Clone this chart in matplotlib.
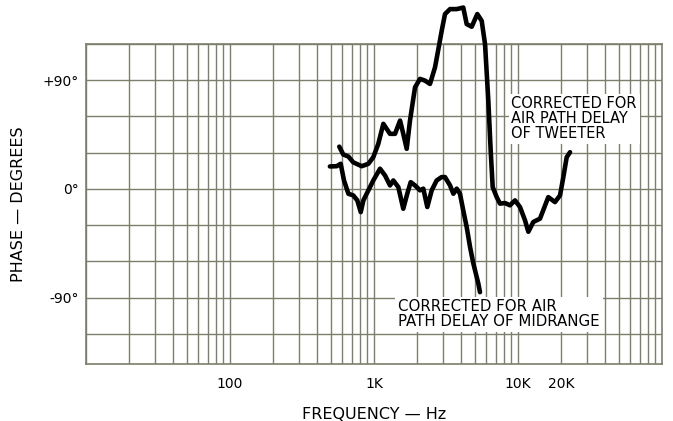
import matplotlib
matplotlib.use("Agg")
import matplotlib.pyplot as plt
import numpy as np

# phase curve corrected for tweeter air path delay (Hz, degrees)
tweeter_freq = [574, 612, 664, 718, 822, 914, 989, 1071, 1161, 1225, 1292, 1400, 1517, 1597,
                1687, 1778, 1927, 2086, 2259, 2448, 2652, 2842, 2953, 3112, 3373, 3754, 4168,
                4402, 4770, 5216, 5596, 5902, 6222, 6460, 6672, 7112, 7499, 8126, 8796, 9527,
                10323, 11185, 11800, 12770, 14220, 16230, 18060, 19580, 20650, 21790, 22980]
tweeter_phase = [35, 28.5, 26.8, 22, 18.8, 20.8, 26.3, 37.3, 53.9, 49.7, 45.6, 45.6, 56.6, 45.6,
                 33.2, 56.6, 84.1, 91.1, 89.7, 86.9, 100.6, 120, 131, 144.8, 148.9, 148.9, 150.2,
                 136.5, 134.3, 144.8, 139.2, 120, 73.1, 31.8, 1.5, -6.8, -12.2, -11.7, -13.6, -9.5,
                 -15, -26, -35.5, -27.4, -24.6, -6.8, -10.9, -5.4, 9.8, 26.3, 30.4]

# phase curve corrected for midrange air path delay
mid_freq = [494, 551, 587, 619, 664, 718, 766, 809, 844, 914, 989, 1101, 1192, 1292, 1362,
            1475, 1597, 1702, 1798, 1927, 2086, 2200, 2345, 2516, 2723, 2951, 3112, 3373,
            3557, 3754, 3953, 4168, 4402, 4645, 4898, 5300, 5445]
mid_phase = [18.6, 18.8, 20.8, 7, -4, -5.4, -9.5, -19.2, -9.5, -1.2, 7, 16.7, 11.2, 2.9, 7,
             1.5, -16.4, -4, 5.6, 2.9, -1.2, 0.2, -15, -1.2, 7, 9.8, 9.8, 2.9,
             -4, 0.2, -4, -17.8, -31.6, -48.1, -61.8, -78.3, -85.5]

xtick_vals = [100, 1000, 10000, 20000]
xtick_text = ["100", "1K", "10K", "20K"]
ytick_vals = [-90, 0, 90]
ytick_text = ["-90°", "0°", "+90°"]

grid_color = "#7e7e6c"

fig = plt.figure(figsize=(6.73, 4.21), dpi=100)
ax = fig.add_axes([86 / 673, 1 - 364 / 421, 576 / 673, 320 / 421])
ax.set_xscale("log")
ax.set_xlim(10, 100000)
ax.set_ylim(-145, 120)

# paper grid
for dec in [10, 100, 1000, 10000]:
    for m in range(1, 10):
        ax.axvline(dec * m, color=grid_color, lw=1.0, zorder=1)
for y in range(-120, 121, 30):
    ax.axhline(y, color=grid_color, lw=1.0, zorder=1)
for s in ax.spines.values():
    s.set_color(grid_color)
    s.set_linewidth(1.2)

ax.plot(tweeter_freq, tweeter_phase, color="black", lw=3.3, solid_joinstyle="round",
        solid_capstyle="round", clip_on=False, zorder=3)
ax.plot(mid_freq, mid_phase, color="black", lw=3.3, solid_joinstyle="round",
        solid_capstyle="round", clip_on=False, zorder=3)

ax.set_xticks(xtick_vals)
ax.set_xticklabels(xtick_text)
ax.xaxis.set_minor_locator(matplotlib.ticker.NullLocator())
ax.set_yticks(ytick_vals)
ax.set_yticklabels(ytick_text)
ax.tick_params(axis="both", length=0, labelsize=10)
ax.tick_params(axis="x", pad=9)
ax.tick_params(axis="y", pad=5)

ax.set_xlabel("FREQUENCY — Hz", fontsize=11.5, labelpad=12)
ax.set_ylabel("PHASE — DEGREES", fontsize=11.5, labelpad=12)

box = dict(facecolor="white", edgecolor="none", pad=2)
ax.text(9000, 58, "CORRECTED FOR\nAIR PATH DELAY\nOF TWEETER", fontsize=10.5,
        linespacing=1.0, va="center", ha="left", bbox=box, zorder=4)
ax.text(1470, -104, "CORRECTED FOR AIR\nPATH DELAY OF MIDRANGE", fontsize=10.8,
        linespacing=1.0, va="center", ha="left", bbox=box, zorder=4)

fig.savefig("out.png", dpi=100)
